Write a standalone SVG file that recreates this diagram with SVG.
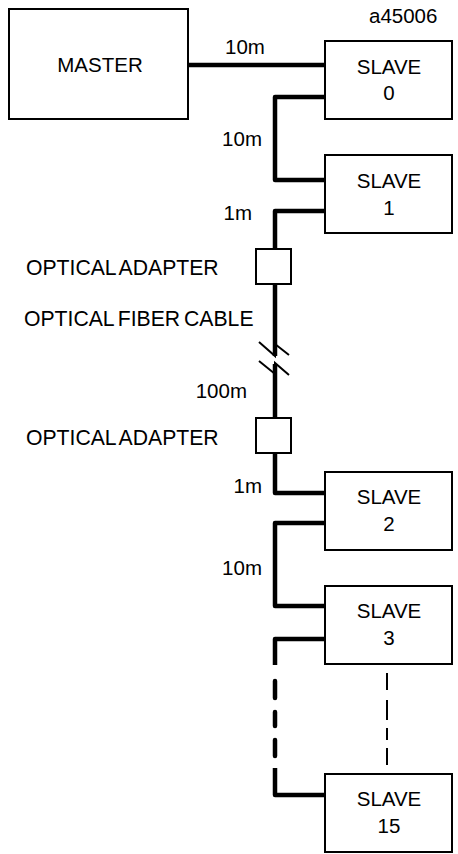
<svg xmlns="http://www.w3.org/2000/svg" width="458" height="854" viewBox="0 0 458 854">
<style>
.box{fill:#fff;stroke:#000;stroke-width:2}
.t{font-family:"Liberation Sans",Arial,sans-serif;font-size:20.5px;fill:#000}
.l{font-size:21.2px;word-spacing:-2px}
.c{text-anchor:middle}
.e{text-anchor:end}
.w{fill:none;stroke:#000;stroke-width:4.5;stroke-linejoin:round}
.thin{fill:none;stroke:#000;stroke-width:2}
</style>
<rect width="458" height="854" fill="#fff"/>
<g id="connectors">
<path class="w" d="M188,65 H325"/>
<path class="w" d="M325,97 H275 V180 H325"/>
<path class="w" d="M325,211 H275 V249"/>
<path class="w" d="M275,284 V356"/>
<polyline class="thin" points="259,342 275,356 275,344 289,355"/>
<polyline class="thin" points="259,361 275,374 275,363 289,375"/>
<path class="w" d="M275,364 V418"/>
<path class="w" d="M275,453 V493 H325"/>
<path class="w" d="M325,523 H275 V606 H325"/>
<path class="w" d="M325,639 H275 V665"/>
<g class="w" style="stroke-linecap:round">
<line x1="275" y1="681" x2="275" y2="698"/>
<line x1="275" y1="712" x2="275" y2="726"/>
<line x1="275" y1="740" x2="275" y2="756"/>
</g>
<path class="w" d="M275,768 V795 H325"/>
<line class="thin" x1="387" y1="673" x2="387" y2="765" stroke-dasharray="17 10 20 8 12 8 17"/>
</g>
<g id="adapter1"><rect class="box" x="256" y="249" width="35" height="35"/></g>
<g id="adapter2"><rect class="box" x="256" y="418" width="35" height="35"/></g>
<g id="master"><rect class="box" x="9" y="9" width="179" height="110"/><text class="t c" x="100" y="72">MASTER</text></g>
<g id="slave0"><rect class="box" x="325" y="41" width="127" height="78"/><text class="t c" x="389" y="74">SLAVE</text><text class="t c" x="389" y="100">0</text></g>
<g id="slave1"><rect class="box" x="325" y="155" width="127" height="78"/><text class="t c" x="389" y="188">SLAVE</text><text class="t c" x="389" y="215">1</text></g>
<g id="slave2"><rect class="box" x="325" y="472" width="127" height="78"/><text class="t c" x="389" y="504">SLAVE</text><text class="t c" x="389" y="531">2</text></g>
<g id="slave3"><rect class="box" x="325" y="586" width="127" height="78"/><text class="t c" x="389" y="618">SLAVE</text><text class="t c" x="389" y="645">3</text></g>
<g id="slave15"><rect class="box" x="325" y="774" width="127" height="78"/><text class="t c" x="389" y="806">SLAVE</text><text class="t c" x="389" y="833">15</text></g>
<g id="labels">
<text class="t" x="369" y="23">a45006</text>
<text class="t c" x="245" y="54">10m</text>
<text class="t e" x="262" y="146">10m</text>
<text class="t e" x="252" y="220">1m</text>
<text class="t l" x="26" y="275">OPTICAL ADAPTER</text>
<text class="t l" x="24" y="326">OPTICAL FIBER CABLE</text>
<text class="t e" x="247" y="398">100m</text>
<text class="t l" x="26" y="445">OPTICAL ADAPTER</text>
<text class="t e" x="262" y="493">1m</text>
<text class="t e" x="262" y="575">10m</text>
</g>
</svg>
